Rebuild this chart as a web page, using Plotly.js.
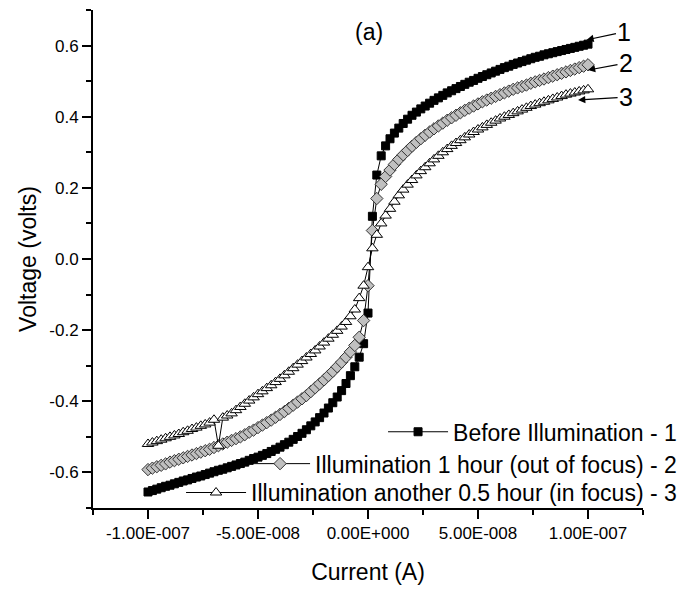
<!DOCTYPE html>
<html><head><meta charset="utf-8">
<script src="https://cdn.plot.ly/plotly-3.0.1.min.js"></script>
<style>html,body{margin:0;padding:0;background:#fff}#chart{width:685px;height:592px}</style>
</head><body><div id="chart"></div><script>
// Current in nA (converted to amperes below)
const currentNA = [-100,-98,-96,-94,-92,-90,-88,-86,-84,-82,
 -80,-78,-76,-74,-72,-70,-68,-66,-64,-62,
 -60,-58,-56,-54,-52,-50,-48,-46,-44,-42,
 -40,-38,-36,-34,-32,-30,-28,-26,-24,-22,
 -20,-18,-16,-14,-12,-10,-8,-6,-4,-2,
 0,
 2,4,6,8,10,12,14,16,18,20,
 22,24,26,28,30,32,34,36,38,40,
 42,44,46,48,50,52,54,56,58,60,
 62,64,66,68,70,72,74,76,78,80,
 82,84,86,88,90,92,94,96,98,100];

const voltageBefore = [-0.655,-0.651,-0.647,-0.643,-0.639,-0.636,-0.632,-0.628,-0.624,-0.621,
 -0.617,-0.613,-0.610,-0.606,-0.602,-0.598,-0.594,-0.591,-0.587,-0.583,
 -0.579,-0.575,-0.571,-0.566,-0.561,-0.557,-0.552,-0.547,-0.541,-0.535,
 -0.529,-0.522,-0.515,-0.507,-0.499,-0.490,-0.480,-0.469,-0.458,-0.446,
 -0.433,-0.419,-0.404,-0.388,-0.370,-0.350,-0.328,-0.303,-0.276,-0.238,
 -0.152,
 0.120,0.236,0.290,0.318,0.338,0.354,0.368,0.381,0.393,0.404,
 0.413,0.422,0.430,0.438,0.446,0.453,0.460,0.467,0.473,0.479,
 0.485,0.491,0.497,0.502,0.508,0.513,0.518,0.523,0.528,0.533,
 0.538,0.542,0.547,0.551,0.555,0.559,0.563,0.567,0.570,0.574,
 0.577,0.580,0.583,0.586,0.589,0.592,0.595,0.598,0.601,0.604];

const voltageIllum1h = [-0.592,-0.588,-0.584,-0.580,-0.576,-0.571,-0.567,-0.563,-0.559,-0.555,
 -0.551,-0.547,-0.543,-0.539,-0.535,-0.530,-0.525,-0.520,-0.515,-0.510,
 -0.505,-0.500,-0.494,-0.487,-0.481,-0.474,-0.467,-0.460,-0.453,-0.445,
 -0.437,-0.429,-0.420,-0.411,-0.402,-0.393,-0.384,-0.373,-0.362,-0.351,
 -0.340,-0.328,-0.316,-0.303,-0.290,-0.276,-0.261,-0.243,-0.220,-0.173,
 -0.075,
 0.080,0.170,0.210,0.232,0.250,0.266,0.280,0.293,0.305,0.317,
 0.328,0.338,0.348,0.357,0.366,0.374,0.382,0.390,0.397,0.404,
 0.411,0.418,0.424,0.430,0.436,0.442,0.447,0.452,0.457,0.462,
 0.467,0.472,0.477,0.481,0.485,0.489,0.494,0.498,0.502,0.506,
 0.510,0.514,0.518,0.522,0.526,0.530,0.534,0.538,0.542,0.546];

const voltageIllumExtra = [-0.520,-0.516,-0.512,-0.508,-0.504,-0.500,-0.496,-0.492,-0.487,-0.483,
 -0.478,-0.474,-0.469,-0.465,-0.460,-0.452,-0.525,-0.446,-0.440,-0.434,
 -0.425,-0.416,-0.407,-0.398,-0.389,-0.380,-0.372,-0.363,-0.355,-0.346,
 -0.337,-0.327,-0.317,-0.307,-0.297,-0.287,-0.277,-0.267,-0.257,-0.246,
 -0.235,-0.224,-0.213,-0.202,-0.190,-0.177,-0.161,-0.142,-0.110,-0.075,
 -0.023,
 0.030,0.068,0.100,0.122,0.141,0.161,0.179,0.195,0.209,0.222,
 0.235,0.247,0.258,0.269,0.280,0.290,0.300,0.309,0.318,0.326,
 0.334,0.342,0.350,0.357,0.364,0.370,0.377,0.383,0.389,0.395,
 0.400,0.405,0.410,0.415,0.420,0.425,0.430,0.434,0.438,0.442,
 0.446,0.450,0.454,0.458,0.462,0.465,0.468,0.471,0.474,0.477];

const seriesNames = ["Before Illumination - 1",
  "Illumination 1 hour (out of focus) - 2",
  "Illumination another 0.5 hour (in focus) - 3"];
const curveLabels = ["1","2","3"];
const xTickVals = [-1e-7,-5e-8,0,5e-8,1e-7];
const xTickText = ["-1.00E-007","-5.00E-008","0.00E+000","5.00E-008","1.00E-007"];
const yTickVals = [-0.6,-0.4,-0.2,0,0.2,0.4,0.6];
const yTickText = ["-0.6","-0.4","-0.2","0.0","0.2","0.4","0.6"];

const current = currentNA.map(v => v * 1e-9);
const FONT = "Arial, 'Liberation Sans', sans-serif";

const traces = [
 {x: current, y: voltageBefore, name: seriesNames[0], legend: 'legend',
  mode: 'lines+markers', line: {color: '#000', width: 1},
  marker: {symbol: 'square', size: 8, color: '#000', line: {color: '#000', width: 1}}},
 {x: current, y: voltageIllum1h, name: seriesNames[1], legend: 'legend2',
  mode: 'lines+markers', line: {color: '#000', width: 1},
  marker: {symbol: 'diamond', size: 9.5, color: '#c0c0c0', line: {color: '#333', width: 1}}},
 {x: current, y: voltageIllumExtra, name: seriesNames[2], legend: 'legend3',
  mode: 'lines+markers', line: {color: '#000', width: 1},
  marker: {symbol: 'triangle-up', size: 10, color: '#fff', line: {color: '#000', width: 1}}}
];

const legendBase = {xanchor: 'right', yanchor: 'middle', x: 1.071,
  bgcolor: 'rgba(0,0,0,0)', borderwidth: 0, itemwidth: 60,
  font: {family: FONT, size: 23, color: '#000'}};

const layout = {
 width: 685, height: 592,
 margin: {l: 93, r: 42, t: 10, b: 84, autoexpand: false},
 paper_bgcolor: '#fff', plot_bgcolor: '#fff',
 font: {family: FONT, color: '#000'},
 showlegend: true,
 legend: Object.assign({}, legendBase, {y: 0.153}),
 legend2: Object.assign({}, legendBase, {y: 0.089}),
 legend3: Object.assign({}, legendBase, {y: 0.031}),
 xaxis: {range: [-1.25e-7, 1.25e-7], showgrid: false, zeroline: false,
   showline: true, linecolor: '#000', linewidth: 2, mirror: false,
   ticks: 'outside', ticklen: 9, tickwidth: 2, tickcolor: '#000',
   tickmode: 'array', tickvals: xTickVals, ticktext: xTickText,
   tickfont: {family: FONT, size: 17, color: '#000'},
   minor: {tickmode: 'linear', tick0: 0, dtick: 2.5e-8, ticks: 'outside', ticklen: 5, tickwidth: 2, tickcolor: '#000'},
   title: {text: 'Current (A)', standoff: 21, font: {family: FONT, size: 23, color: '#000'}}},
 yaxis: {range: [-0.7, 0.7], showgrid: false, zeroline: false,
   showline: true, linecolor: '#000', linewidth: 2, mirror: false,
   ticks: 'outside', ticklen: 9, tickwidth: 2, tickcolor: '#000',
   tickmode: 'array', tickvals: yTickVals, ticktext: yTickText,
   tickfont: {family: FONT, size: 17, color: '#000'},
   minor: {tickmode: 'linear', tick0: 0, dtick: 0.1, ticks: 'outside', ticklen: 5, tickwidth: 2, tickcolor: '#000'},
   title: {text: 'Voltage (volts)', font: {family: FONT, size: 23, color: '#000'}}},
 annotations: [
  {xref: 'paper', yref: 'paper', x: 0.502, y: 0.956, xanchor: 'center', yanchor: 'middle',
   text: '(a)', showarrow: false, font: {family: FONT, size: 23, color: '#000'}},
  {xref: 'x', yref: 'y', x: 99.3e-9, y: 0.616, text: curveLabels[0], showarrow: true,
   ax: 38, ay: -8, arrowhead: 2, arrowsize: 1.2, arrowwidth: 1.2, arrowcolor: '#000',
   font: {family: FONT, size: 25, color: '#000'}},
  {xref: 'x', yref: 'y', x: 100e-9, y: 0.531, text: curveLabels[1], showarrow: true,
   ax: 38, ay: -7, arrowhead: 2, arrowsize: 1.2, arrowwidth: 1.2, arrowcolor: '#000',
   font: {family: FONT, size: 25, color: '#000'}},
  {xref: 'x', yref: 'y', x: 95.5e-9, y: 0.447, text: curveLabels[2], showarrow: true,
   ax: 48, ay: -3, arrowhead: 2, arrowsize: 1.2, arrowwidth: 1.2, arrowcolor: '#000',
   font: {family: FONT, size: 25, color: '#000'}}
 ]
};

Plotly.newPlot('chart', traces, layout, {staticPlot: true, displayModeBar: false});
</script></body></html>
